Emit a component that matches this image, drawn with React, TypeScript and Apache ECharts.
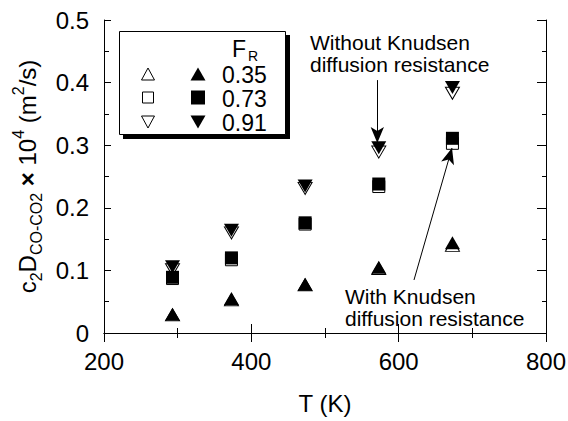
import React, { useEffect, useRef } from "react";
import * as echarts from "echarts";

const temps = [293, 373, 473, 573, 673];
const fr035Without = [0.029, 0.053, 0.077, 0.103, 0.14];
const fr073Without = [0.087, 0.117, 0.174, 0.234, 0.303];
const fr091Without = [0.101, 0.16, 0.231, 0.289, 0.383];
const fr035With = [0.03, 0.055, 0.078, 0.105, 0.144];
const fr073With = [0.089, 0.12, 0.176, 0.238, 0.311];
const fr091With = [0.106, 0.164, 0.235, 0.296, 0.392];
const legendLabels = ["0.35", "0.73", "0.91"];
const xTicks = [200, 400, 600, 800];
const yTicks = [0, 0.1, 0.2, 0.3, 0.4, 0.5];

const FONT = "'Liberation Sans', Arial, Helvetica, sans-serif";

const pairs = (ys: number[]) => temps.map((t, i) => [t, ys[i]]);

function tri(cx: number, cy: number, w: number, h: number, down: boolean) {
  return down
    ? [[cx - w / 2, cy - h / 2], [cx + w / 2, cy - h / 2], [cx, cy + h / 2]]
    : [[cx - w / 2, cy + h / 2], [cx + w / 2, cy + h / 2], [cx, cy - h / 2]];
}

export default function App() {
  const ref = useRef<HTMLDivElement>(null);
  useEffect(() => {
    document.body.style.margin = "0";
    if (!ref.current) return;
    const chart = echarts.init(ref.current, undefined, { renderer: "svg" });
    const openStyle = { color: "#fff", borderColor: "#000", borderWidth: 1, opacity: 1 };
    const fillStyle = { color: "#000", borderColor: "#000", borderWidth: 0, opacity: 1 };
    const axisCommon = {
      axisLine: { show: true, lineStyle: { color: "#000", width: 1 } },
      splitLine: { show: false },
    };
    const rows = [74, 97.5, 122];
    const legendGraphics: any[] = [
      { type: "rect", shape: { x: 123, y: 35, width: 167, height: 104 }, style: { fill: "#000" } },
      { type: "rect", shape: { x: 119.5, y: 31.5, width: 166, height: 103 }, style: { fill: "#fff", stroke: "#000", lineWidth: 1 } },
      { type: "text", x: 232, y: 49, style: { text: "F", font: `23px ${FONT}`, lineHeight: 18, fill: "#000", verticalAlign: "middle" } },
      { type: "text", x: 248, y: 56, style: { text: "R", font: `14px ${FONT}`, lineHeight: 10, fill: "#000", verticalAlign: "middle" } },
    ];
    rows.forEach((cy, i) => {
      const down = i === 2;
      if (i === 1) {
        legendGraphics.push({ type: "rect", shape: { x: 142.5, y: cy - 5.5, width: 11, height: 11 }, style: { fill: "#fff", stroke: "#000", lineWidth: 1 } });
        legendGraphics.push({ type: "rect", shape: { x: 191, y: cy - 7, width: 14, height: 14 }, style: { fill: "#000" } });
      } else {
        legendGraphics.push({ type: "polygon", shape: { points: tri(148, cy, 13, 12, down) }, style: { fill: "#fff", stroke: "#000", lineWidth: 1 } });
        legendGraphics.push({ type: "polygon", shape: { points: tri(198, cy, 15, 13, down) }, style: { fill: "#000" } });
      }
      legendGraphics.push({ type: "text", x: 222, y: cy + 1, style: { text: legendLabels[i], font: `23px ${FONT}`, lineHeight: 19, fill: "#000", verticalAlign: "middle" } });
    });
    const annot = (x: number, y: number, t: string) => ({
      type: "text", x, y,
      style: { text: t, font: `21px ${FONT}`, lineHeight: 22, fill: "#000", verticalAlign: "top" },
    });
    const arrowLine = (a: number[], b: number[]) => ({
      silent: true,
      symbol: ["none", "arrow"],
      symbolSize: [10, 16],
      label: { show: false },
      lineStyle: { color: "#000", width: 1, type: "solid" },
      data: [[{ coord: a }, { coord: b }]],
    });
    chart.setOption({
      animation: false,
      backgroundColor: "#fff",
      textStyle: { fontFamily: FONT, color: "#000" },
      grid: { left: 104, right: 22, top: 20, bottom: 88, containLabel: false, outerBoundsMode: "none" },
      xAxis: [
        {
          ...axisCommon,
          type: "value", min: xTicks[0], max: xTicks[xTicks.length - 1], interval: 200,
          name: "T (K)", nameLocation: "middle", nameGap: 58,
          nameTextStyle: { fontSize: 24, color: "#000", fontFamily: FONT },
          axisTick: { inside: true, length: 9, lineStyle: { color: "#000" } },
          minorTick: { show: true, splitNumber: 2, length: 5, lineStyle: { color: "#000" } },
          axisLabel: { fontSize: 24, color: "#000", margin: 16, fontFamily: FONT },
        },
        {
          ...axisCommon,
          type: "value", position: "top", min: 200, max: 800, interval: 200,
          axisTick: { inside: true, length: 9, lineStyle: { color: "#000" } },
          minorTick: { show: true, splitNumber: 2, length: 5, lineStyle: { color: "#000" } },
          axisLabel: { show: false },
        },
      ],
      yAxis: [
        {
          ...axisCommon,
          type: "value", min: yTicks[0], max: yTicks[yTicks.length - 1], interval: 0.1,
          name: "{m|c}{sb|2}{m|D}{sb|CO-CO2}{x| × }{m|10}{sp|4}{m| (m}{sp|2}{m|/s)}",
          nameLocation: "middle", nameGap: 60, nameRotate: 90,
          nameTextStyle: {
            color: "#000", fontFamily: FONT,
            rich: {
              m: { fontSize: 24, lineHeight: 34, verticalAlign: "middle", fontFamily: FONT, color: "#000" },
              x: { fontSize: 24, lineHeight: 34, verticalAlign: "middle", fontWeight: "bold", fontFamily: FONT, color: "#000" },
              sb: { fontSize: 16, lineHeight: 18, verticalAlign: "bottom", fontFamily: FONT, color: "#000" },
              sp: { fontSize: 16, lineHeight: 18, verticalAlign: "top", fontFamily: FONT, color: "#000" },
            },
          },
          axisTick: { inside: true, length: 7, lineStyle: { color: "#000" } },
          minorTick: { show: true, splitNumber: 2, length: 5, lineStyle: { color: "#000" } },
          axisLabel: { fontSize: 24, color: "#000", margin: 15, fontFamily: FONT, formatter: (v: number) => String(Number(v.toFixed(2))) },
        },
        {
          ...axisCommon,
          type: "value", position: "right", min: 0, max: 0.5, interval: 0.1,
          axisTick: { inside: true, length: 9, lineStyle: { color: "#000" } },
          minorTick: { show: true, splitNumber: 2, length: 4, lineStyle: { color: "#000" } },
          axisLabel: { show: false },
        },
      ],
      series: [
        { type: "scatter", name: "0.35 without", data: pairs(fr035Without), symbol: "triangle", symbolSize: [14, 12], itemStyle: openStyle },
        { type: "scatter", name: "0.73 without", data: pairs(fr073Without), symbol: "rect", symbolSize: 12, itemStyle: openStyle },
        { type: "scatter", name: "0.91 without", data: pairs(fr091Without), symbol: "triangle", symbolRotate: 180, symbolSize: [14, 12], itemStyle: openStyle },
        { type: "scatter", name: "0.35 with", data: pairs(fr035With), symbol: "triangle", symbolSize: [15, 13], itemStyle: fillStyle },
        { type: "scatter", name: "0.73 with", data: pairs(fr073With), symbol: "rect", symbolSize: 13, itemStyle: fillStyle,
          markLine: arrowLine([620.8, 0.0847], [672.4, 0.2955]) },
        { type: "scatter", name: "0.91 with", data: pairs(fr091With), symbol: "triangle", symbolRotate: 180, symbolSize: [15, 13], itemStyle: fillStyle,
          markLine: arrowLine([571, 0.404], [571, 0.3035]) },
      ],
      graphic: [
        ...legendGraphics,
        annot(310, 31, "Without Knudsen\ndiffusion resistance"),
        annot(345, 285, "With Knudsen\ndiffusion resistance"),
      ],
    });
    return () => chart.dispose();
  }, []);
  return <div ref={ref} style={{ width: 568, height: 421 }} />;
}
